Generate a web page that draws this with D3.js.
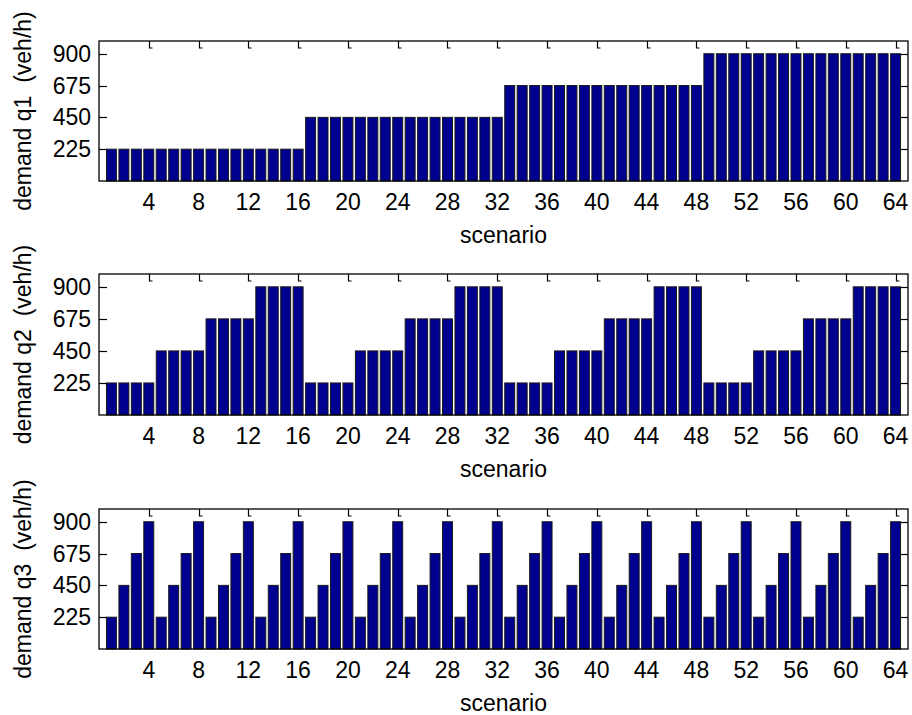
<!DOCTYPE html>
<html>
<head>
<meta charset="utf-8">
<script src="https://cdn.jsdelivr.net/npm/d3@7"></script>
<style>
  html, body { margin: 0; padding: 0; background: #fff; }
  svg text { font-family: "Liberation Sans", Arial, Helvetica, sans-serif; fill: #000; }
</style>
</head>
<body>
<svg id="chart" width="912" height="715"></svg>
<script>
// ---- data ----
const scenarios = d3.range(1, 65);
const q1 = [
  225,225,225,225,225,225,225,225,225,225,225,225,225,225,225,225,
  450,450,450,450,450,450,450,450,450,450,450,450,450,450,450,450,
  675,675,675,675,675,675,675,675,675,675,675,675,675,675,675,675,
  900,900,900,900,900,900,900,900,900,900,900,900,900,900,900,900
];
const q2 = [
  225,225,225,225,450,450,450,450,675,675,675,675,900,900,900,900,
  225,225,225,225,450,450,450,450,675,675,675,675,900,900,900,900,
  225,225,225,225,450,450,450,450,675,675,675,675,900,900,900,900,
  225,225,225,225,450,450,450,450,675,675,675,675,900,900,900,900
];
const q3 = [
  225,450,675,900,225,450,675,900,225,450,675,900,225,450,675,900,
  225,450,675,900,225,450,675,900,225,450,675,900,225,450,675,900,
  225,450,675,900,225,450,675,900,225,450,675,900,225,450,675,900,
  225,450,675,900,225,450,675,900,225,450,675,900,225,450,675,900
];
const xTicks = [4, 8, 12, 16, 20, 24, 28, 32, 36, 40, 44, 48, 52, 56, 60, 64];
const yTicks = [225, 450, 675, 900];
const yLabels = ["demand q1  (veh/h)", "demand q2  (veh/h)", "demand q3  (veh/h)"];
const xLabel = "scenario";
const series = [q1, q2, q3];

// ---- layout ----
const svg = d3.select("#chart");
const left = 99, right = 908;
const panels = [
  { top: 41, bottom: 181 },
  { top: 274, bottom: 415 },
  { top: 509, bottom: 649 }
];
const fontSize = 23;
const barColor = "#00008F";

const x = d3.scaleLinear().domain([0, 65]).range([left, right]);
const barW = x(0.8) - x(0);

panels.forEach((p, k) => {
  const y = d3.scaleLinear().domain([0, 990]).range([p.bottom, p.top]);
  const g = svg.append("g");
  const data = series[k];

  // ticks (drawn beneath bars)
  const tickG = g.append("g").attr("stroke", "#000").attr("stroke-width", 1.2).attr("fill", "none");
  yTicks.forEach(v => {
    const yy = Math.round(y(v)) + 0.5;
    tickG.append("line").attr("x1", left).attr("x2", left + 8).attr("y1", yy).attr("y2", yy);
    tickG.append("line").attr("x1", right - 8).attr("x2", right).attr("y1", yy).attr("y2", yy);
  });
  xTicks.forEach(v => {
    const xx = Math.round(x(v)) + 0.5;
    tickG.append("path").attr("d", `M${xx},${p.top}V${p.top + 7}h3`);
    tickG.append("line").attr("x1", xx).attr("x2", xx).attr("y1", p.bottom).attr("y2", p.bottom - 7);
  });

  // bars
  g.append("g").selectAll("rect").data(data).enter().append("rect")
    .attr("x", (d, i) => x(scenarios[i]) - barW / 2)
    .attr("width", barW)
    .attr("y", d => y(d))
    .attr("height", d => y(0) - y(d))
    .attr("fill", barColor)
    .attr("stroke", "#1a1a1a")
    .attr("stroke-width", 1);

  // axes box
  g.append("rect")
    .attr("x", left).attr("y", p.top)
    .attr("width", right - left).attr("height", p.bottom - p.top)
    .attr("fill", "none").attr("stroke", "#000").attr("stroke-width", 1.3);

  // y tick labels
  g.append("g").selectAll("text").data(yTicks).enter().append("text")
    .attr("x", 91).attr("y", d => y(d) + 8)
    .attr("text-anchor", "end").attr("font-size", fontSize)
    .text(d => d);

  // x tick labels
  g.append("g").selectAll("text").data(xTicks).enter().append("text")
    .attr("x", d => x(d)).attr("y", p.bottom + 29)
    .attr("text-anchor", "middle").attr("font-size", fontSize)
    .text(d => d);

  // x label
  g.append("text")
    .attr("x", (left + right) / 2).attr("y", p.bottom + 62)
    .attr("text-anchor", "middle").attr("font-size", fontSize)
    .text(xLabel);

  // y label
  const cy = (p.top + p.bottom) / 2;
  g.append("text")
    .attr("transform", `translate(31,${cy}) rotate(-90)`)
    .attr("text-anchor", "middle").attr("font-size", fontSize)
    .style("white-space", "pre")
    .text(yLabels[k]);
});
</script>
</body>
</html>
